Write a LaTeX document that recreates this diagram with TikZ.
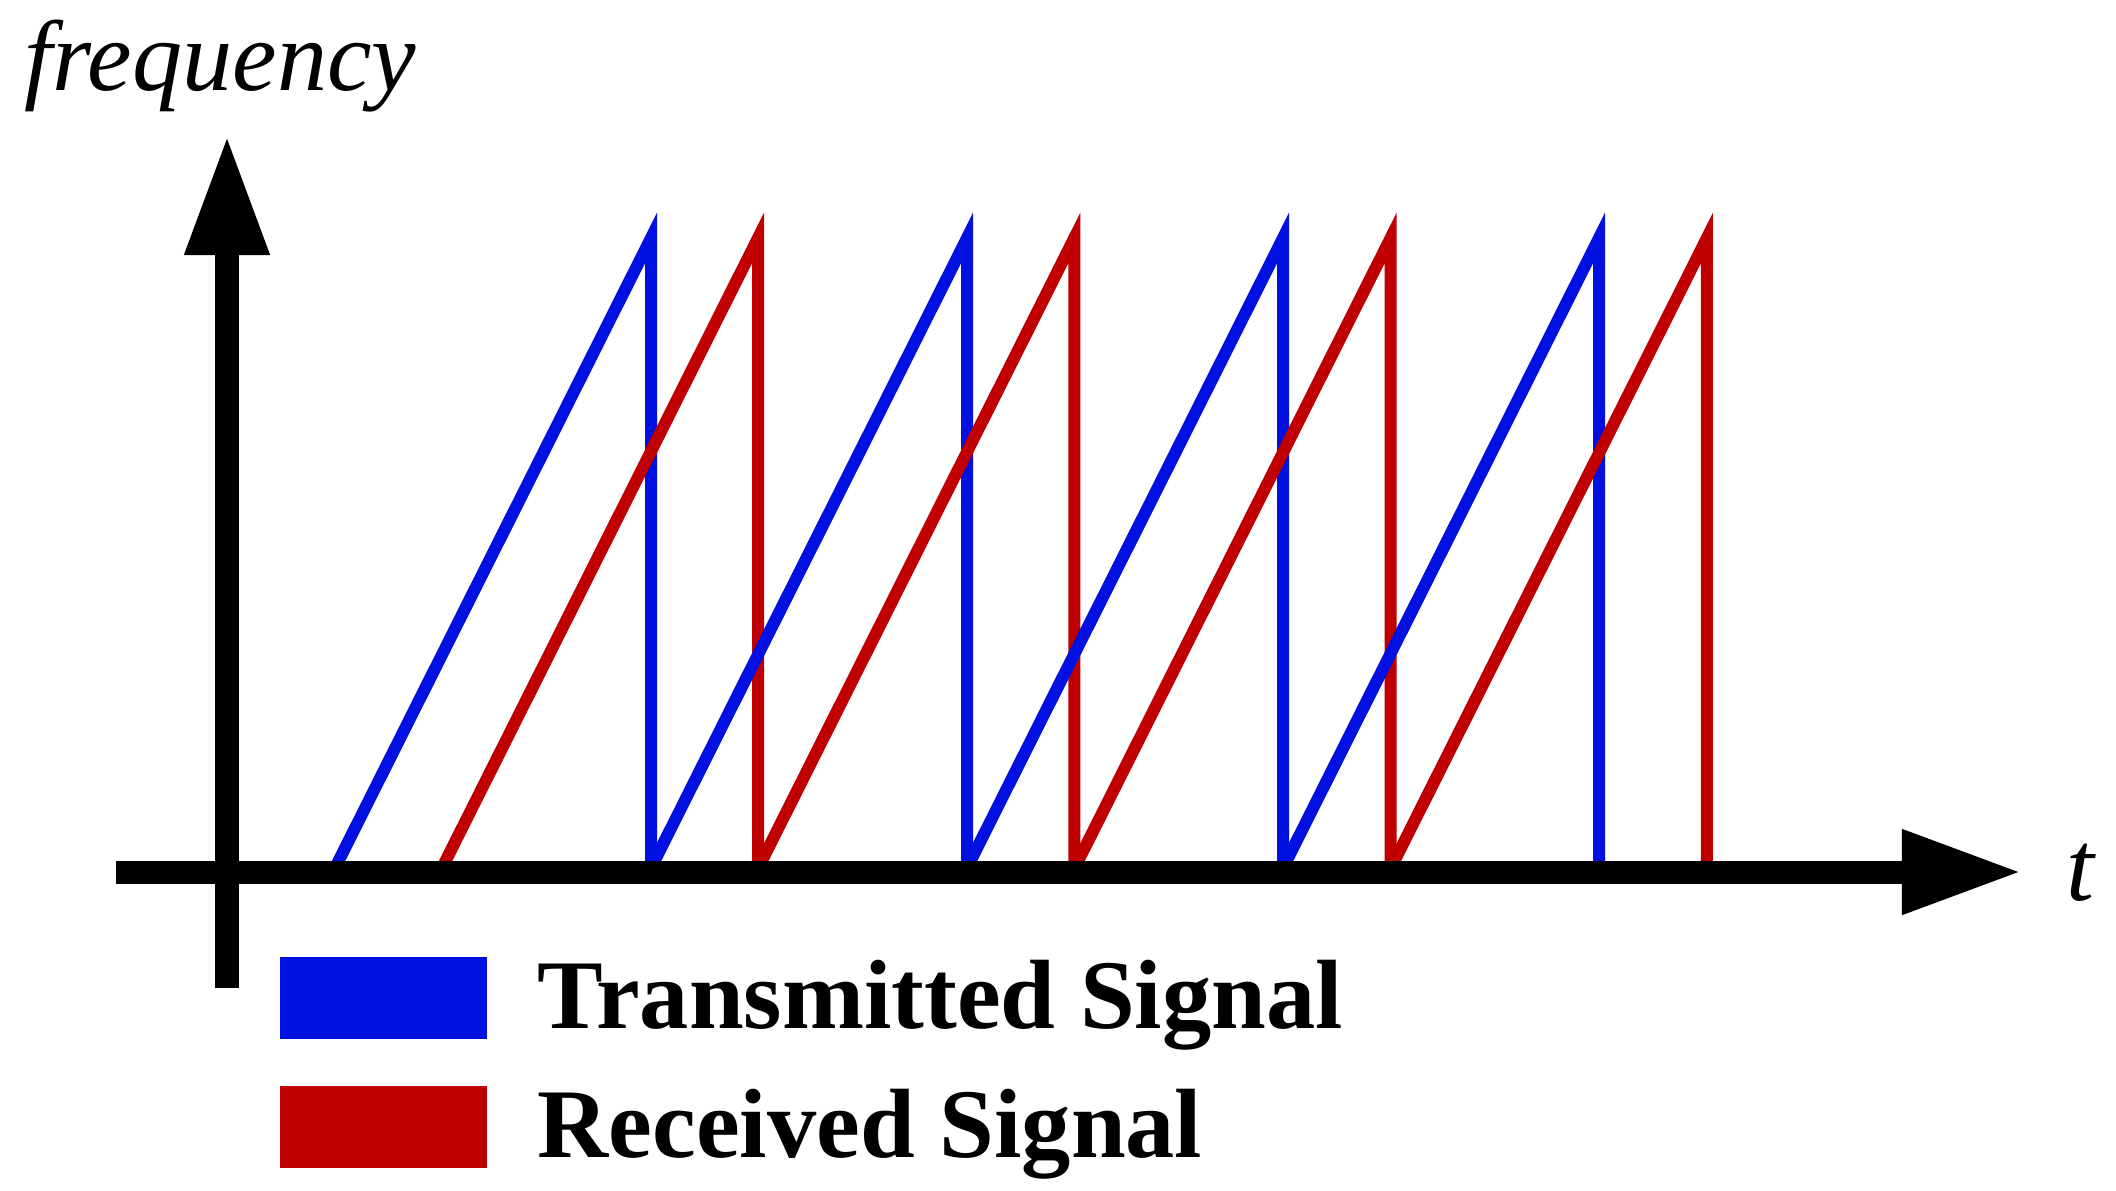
\documentclass[tikz,border=0pt]{standalone}
\usepackage{fontspec}
\setmainfont{Liberation Serif}
\usetikzlibrary{arrows.meta}
\definecolor{txblue}{RGB}{0,16,224}
\definecolor{rxred}{RGB}{192,0,0}
\tikzset{
  axisline/.style={line width=0.23cm, black, -{Triangle[length=1.2cm,width=0.79cm]}},
  chirp/.style={line width=0.12cm},
  legendbox/.style={minimum width=2.07cm, minimum height=0.82cm, inner sep=0pt, anchor=north west},
  bigtext/.style={font=\fontsize{28}{33}\selectfont, inner sep=0pt, anchor=base west}
}
\begin{document}
\begin{tikzpicture}[x=0.01cm,y=-0.01cm]
    \useasboundingbox (0,0) rectangle (2116,1190);
    \coordinate (origo) at (227,872);
    \coordinate (ybot) at (227,988);
    \coordinate (ytop) at (227,135);
    \coordinate (xleft) at (116,872);
    \coordinate (xright) at (2022,872);
    % transmitted and received ramps
    \foreach \k in {0,...,3} {
        \draw[chirp,txblue] ({335+316*\k},868) -- ({651+316*\k},238) -- ({651+316*\k},868);
        \draw[chirp,rxred] ({442+316.3*\k},868) -- ({758+316.3*\k},238) -- ({758+316.3*\k},868);
    }
    % draw axes
    \draw[axisline] (ybot) -- (ytop);
    \draw[axisline] (xleft) -- (xright);
    \node (freq) [bigtext,font=\fontsize{28.5}{33}\selectfont\itshape] at (24,90) {frequency};
    \node (tee) [bigtext,font=\fontsize{28.5}{33}\selectfont\itshape] at (2066,900) {t};
    % legend
    \node (txbox) [legendbox,fill=txblue] at (279,956) {};
    \node (rxbox) [legendbox,fill=rxred] at (279,1085) {};
    \node (txtext) [bigtext,font=\fontsize{28}{33}\selectfont\bfseries] at (537,1028) {Transmitted Signal};
    \node (rxtext) [bigtext,font=\fontsize{28}{33}\selectfont\bfseries] at (537,1157) {Received Signal};
\end{tikzpicture}
\end{document}
